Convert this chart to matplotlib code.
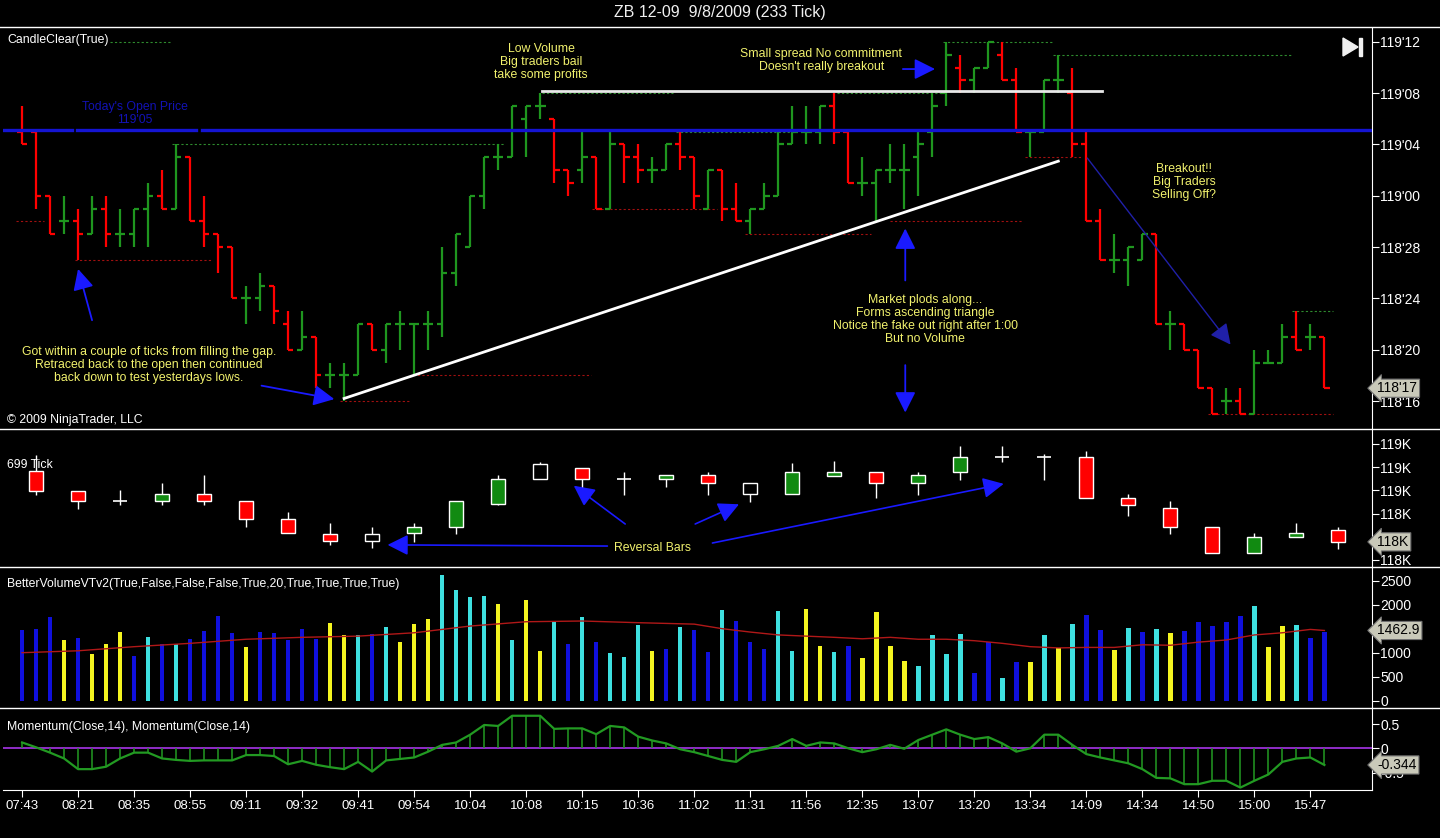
import numpy as np
import matplotlib.pyplot as plt
from matplotlib.patches import Rectangle, Polygon
from matplotlib.lines import Line2D
from matplotlib.transforms import blended_transform_factory

plt.rcParams['font.family'] = ['Liberation Sans', 'DejaVu Sans']

# 233 tick bars, prices in 32nds above 118'00
opens = [37, 37, 32, 30, 30, 29, 31, 29, 29, 31, 32, 31, 35, 30, 29, 28, 24, 24, 25, 22,
         20, 21, 18, 18, 18, 22, 20, 22, 22, 22, 22, 26, 28, 32, 35, 35, 38, 39, 38, 34,
         34, 35, 31, 36, 35, 34, 34, 36, 35, 31, 34, 31, 30, 31, 32, 36, 37, 37, 39, 37,
         33, 33, 34, 34, 35, 37, 40, 42, 41, 42, 43, 41, 37, 37, 41, 40, 36, 30, 27, 27,
         27, 29, 22, 22, 20, 17, 16, 16, 15, 19, 19, 21, 21, 21]
highs = [39, 37, 32, 32, 31, 32, 32, 31, 31, 33, 34, 36, 35, 32, 29, 28, 25, 26, 25, 23,
         23, 21, 19, 19, 22, 22, 22, 23, 22, 23, 28, 29, 32, 35, 36, 39, 39, 40, 38, 34,
         37, 35, 37, 36, 36, 35, 36, 37, 35, 34, 34, 33, 31, 33, 37, 39, 39, 39, 40, 37,
         35, 34, 36, 36, 37, 40, 44, 43, 42, 44, 44, 42, 37, 41, 43, 42, 37, 31, 29, 28,
         29, 29, 23, 22, 20, 17, 17, 17, 20, 20, 22, 23, 22, 21]
lows = [36, 31, 29, 29, 27, 29, 28, 28, 28, 28, 31, 31, 30, 28, 26, 24, 22, 23, 22, 20,
        20, 17, 17, 16, 18, 20, 19, 20, 18, 20, 21, 25, 28, 31, 34, 35, 35, 38, 33, 32,
        33, 31, 31, 33, 33, 33, 34, 34, 31, 31, 30, 30, 29, 31, 32, 36, 36, 36, 36, 33,
        32, 30, 33, 31, 32, 35, 39, 40, 40, 42, 41, 37, 35, 37, 40, 35, 30, 27, 26, 25,
        27, 22, 20, 20, 17, 15, 15, 15, 15, 19, 19, 20, 20, 17]
closes = [36, 32, 29, 30, 29, 31, 29, 29, 31, 32, 31, 35, 30, 29, 28, 24, 24, 25, 23, 20,
          21, 18, 18, 18, 22, 20, 22, 22, 22, 22, 26, 29, 32, 35, 35, 39, 39, 39, 34, 33,
          35, 31, 36, 35, 34, 34, 36, 35, 32, 34, 31, 30, 31, 32, 36, 37, 37, 39, 37, 33,
          33, 34, 34, 34, 36, 39, 43, 41, 42, 44, 41, 37, 37, 41, 41, 36, 30, 27, 27, 28,
          29, 22, 22, 20, 17, 15, 16, 15, 19, 19, 21, 20, 21, 17]
open_price = 37  # 119'05

price_ticks = [44, 40, 36, 32, 28, 24, 20, 16]
price_labels = ["119'12", "119'08", "119'04", "119'00", "118'28", "118'24", "118'20", "118'16"]

# swing high / low dotted lines: (start bar, end bar, level, kind)
levels = [(6.3, 10.6, 44, 'g'), (-0.4, 1.6, 30, 'r'), (3.8, 13.6, 27, 'r'),
          (10.7, 34.5, 36, 'g'), (22.7, 27.6, 16, 'r'), (27.9, 40.6, 18, 'r'),
          (37.1, 46.5, 40, 'g'), (46.7, 55.1, 37, 'g'), (40.7, 49.6, 31, 'r'),
          (51.6, 60.6, 29, 'r'), (58.2, 65.8, 40, 'g'), (62.0, 71.5, 30, 'r'),
          (65.8, 73.6, 44, 'g'), (73.6, 90.6, 43, 'g'), (71.6, 75.6, 35, 'r'),
          (90.7, 93.6, 23, 'g'), (84.7, 93.6, 15, 'r')]

# hand drawn trend lines (bar, price)
resist_line = [(37.1, 40.2), (77.1, 40.2)]
support_line = [(23.0, 16.2), (74.0, 34.7)]

# 699 tick candles, one per three 233 tick bars
c_open = [119.084, 118.997, 118.954, 118.954, 118.984, 118.954, 118.877, 118.812,
          118.782, 118.816, 118.842, 118.941, 119.049, 119.097, 119.049, 119.049,
          119.066, 118.984, 118.984, 119.062, 119.079, 119.032, 119.079, 119.144,
          119.144, 119.144, 118.967, 118.924, 118.842, 118.730, 118.799, 118.829]
c_high = [119.153, 118.997, 119.002, 119.032, 119.066, 118.954, 118.907, 118.859,
          118.842, 118.859, 118.954, 119.066, 119.122, 119.097, 119.079, 119.066,
          119.079, 119.032, 119.118, 119.127, 119.079, 119.079, 119.191, 119.191,
          119.157, 119.170, 118.984, 118.954, 118.842, 118.816, 118.859, 118.842]
c_low = [118.980, 118.920, 118.937, 118.937, 118.937, 118.842, 118.816, 118.765,
         118.752, 118.778, 118.812, 118.937, 119.049, 119.010, 118.980, 119.015,
         118.980, 118.950, 118.984, 119.062, 118.967, 118.980, 119.045, 119.122,
         119.045, 118.967, 118.890, 118.812, 118.730, 118.730, 118.799, 118.747]
c_close = [118.997, 118.954, 118.954, 118.984, 118.954, 118.877, 118.816, 118.782,
           118.812, 118.842, 118.954, 119.049, 119.114, 119.049, 119.049, 119.066,
           119.032, 119.032, 119.079, 119.079, 119.032, 119.066, 119.144, 119.144,
           119.144, 118.967, 118.937, 118.842, 118.730, 118.799, 118.816, 118.778]
c_kind = ['r', 'r', 'w', 'g', 'r', 'r', 'r', 'r', 'w', 'g', 'g', 'g', 'w', 'r', 'w', 'g',
          'r', 'w', 'g', 'g', 'r', 'g', 'g', 'w', 'w', 'r', 'r', 'r', 'r', 'g', 'g', 'r']
c_ticks = [119.2, 119.1, 119.0, 118.9, 118.8, 118.7]
c_labels = ['119K', '119K', '119K', '118K', '', '118K']  # 5th sits under the price marker

# volume per bar and its colour class
volume = [1470, 1490, 1750, 1260, 1300, 970, 1180, 1430, 930, 1330, 1190, 1180, 1280, 1450,
          1760, 1420, 1120, 1430, 1410, 1260, 1490, 1290, 1620, 1370, 1370, 1390, 1540, 1220,
          1600, 1700, 2620, 2300, 2160, 2180, 2010, 1260, 2100, 1040, 1660, 1180, 1740, 1220,
          990, 910, 1580, 1040, 1080, 1540, 1470, 1010, 1890, 1670, 1220, 1080, 1870, 1040,
          1920, 1140, 1010, 1140, 890, 1850, 1140, 830, 720, 1370, 970, 1390, 580, 1220, 470,
          800, 800, 1370, 1100, 1600, 1790, 1470, 1060, 1510, 1430, 1490, 1410, 1450, 1640,
          1560, 1640, 1760, 1970, 1120, 1560, 1580, 1310, 1430]
vol_kind = list('bbbybyyybcbcbbbbybbbbbyycbcyyyccccycyycbcbcccybcbb'
                'cbbbccyycbyyyyccccbbcbycycbbycbcybbbbbcyycbb')
vol_ma_bar = [0, 4, 8, 12, 16, 20, 24, 28, 32, 36, 40, 44, 48, 50, 52, 54, 56, 58, 60, 62,
              64, 66, 68, 70, 72, 74, 76, 78, 80, 82, 84, 86, 88, 90, 92, 93]
vol_ma = [1000, 1040, 1125, 1195, 1280, 1320, 1345, 1415, 1555, 1645, 1660, 1625, 1595, 1500,
          1430, 1370, 1345, 1320, 1290, 1320, 1280, 1280, 1250, 1195, 1125, 1100, 1110, 1110,
          1165, 1155, 1220, 1265, 1370, 1415, 1485, 1463]
vol_ticks = [0, 500, 1000, 1500, 2000, 2500]
vol_labels = ['0', '500', '1000', '', '2000', '2500']  # 1500 sits under the MA marker

momentum = [0.12, 0.02, -0.09, -0.21, -0.43, -0.43, -0.38, -0.21, -0.09, -0.09, -0.21, -0.24,
            -0.26, -0.25, -0.25, -0.25, -0.14, -0.14, -0.16, -0.33, -0.26, -0.34, -0.39, -0.43,
            -0.28, -0.48, -0.25, -0.22, -0.19, -0.07, 0.07, 0.12, 0.28, 0.48, 0.46, 0.67, 0.67,
            0.67, 0.40, 0.41, 0.41, 0.29, 0.46, 0.43, 0.24, 0.16, 0.10, -0.02, -0.08, -0.16,
            -0.24, -0.28, -0.08, -0.02, 0.05, 0.19, 0.05, 0.12, 0.10, 0.0, -0.08, -0.02, 0.07,
            -0.01, 0.17, 0.28, 0.39, 0.28, 0.19, 0.23, 0.10, -0.07, 0.0, 0.28, 0.28, 0.07,
            -0.12, -0.19, -0.25, -0.31, -0.43, -0.61, -0.62, -0.74, -0.74, -0.67, -0.67, -0.81,
            -0.67, -0.54, -0.28, -0.21, -0.19, -0.344]

times = ['07:43', '08:21', '08:35', '08:55', '09:11', '09:32', '09:41', '09:54', '10:04',
         '10:08', '10:15', '10:36', '11:02', '11:31', '11:56', '12:35', '13:07', '13:20',
         '13:34', '14:09', '14:34', '14:50', '15:00', '15:47']

W, H = 1440, 838
RED, GREEN = '#ff0000', '#1f961f'
BLUE = '#1a1aff'
YEL = '#f2f26e'
FS = 8.8
TFS = 10


def rect(top, bot):
    return [3 / W, 1 - bot / H, 1369 / W, (bot - top) / H]


def style(ax, ylim):
    ax.set_facecolor('black')
    ax.set_xlim(-1.36, 96.4)
    ax.set_ylim(*ylim)
    for s in ['top', 'left', 'bottom']:
        ax.spines[s].set_visible(False)
    ax.spines['right'].set_color('white')
    ax.yaxis.tick_right()
    ax.tick_params(axis='y', colors='white', labelsize=TFS, length=5, pad=1)
    ax.set_xticks([])


fig = plt.figure(figsize=(W / 100, H / 100), dpi=100, facecolor='black')
fig.text(0.5, 1 - 13 / H, 'ZB 12-09  9/8/2009 (233 Tick)', color='#f0f0f0',
         ha='center', va='center', fontsize=11.5)

ax_p = fig.add_axes(rect(28, 429))
ax_c = fig.add_axes(rect(430, 566))
ax_v = fig.add_axes(rect(567, 707))
ax_m = fig.add_axes(rect(708, 790))

x = np.arange(len(opens))

# ---- price panel
style(ax_p, (13.82, 45.08))
ax_p.set_yticks(price_ticks)
ax_p.set_yticklabels(price_labels)
cols = [GREEN if c >= o else RED for o, c in zip(opens, closes)]
for s, e, lv, k in levels:
    ax_p.hlines(lv, s, e, colors='#2e8b2e' if k == 'g' else '#a01010',
                linestyles=(0, (2, 2)), lw=0.8)
ax_p.vlines(x, lows, highs, colors=cols, lw=1.6)
ax_p.hlines(opens, x - 0.38, x, colors=cols, lw=1.6)
ax_p.hlines(closes, x, x + 0.38, colors=cols, lw=1.6)

for s, e in [(-1.36, 3.55), (3.95, 12.4), (12.85, 96.4)]:
    ax_p.plot([s, e], [open_price + 0.15] * 2, color='#1414d2', lw=2.4, zorder=3)
ax_p.text(8.07, 38.4, "Today's Open Price\n119'05", color='#1212b4', ha='center',
          va='center', fontsize=FS, linespacing=1.15)

ax_p.plot(*zip(*resist_line), color='#e8e8e8', lw=2, zorder=4)
ax_p.plot(*zip(*support_line), color='white', lw=2, zorder=4)

notes = [(9.07, 18.84, 'Got within a couple of ticks from filling the gap.\n'
          'Retraced back to the open then continued\nback down to test yesterdays lows.'),
         (37.07, 42.42, 'Low Volume\nBig traders bail\ntake some profits'),
         (57.07, 42.54, "Small spread No commitment\nDoesn't really breakout"),
         (83.0, 33.1, 'Breakout!!\nBig Traders\nSelling Off?'),
         (64.5, 22.35, 'Market plods along...\nForms ascending triangle\n'
          'Notice the fake out right after 1:00\nBut no Volume')]
for nx, ny, t in notes:
    ax_p.text(nx, ny, t, color=YEL, ha='center', va='center', fontsize=FS, linespacing=1.12)

arrows = [((5.0, 22.3), (4.0, 26.3), 1.3), ((17.1, 17.2), (22.3, 16.15), 1.3),
          ((62.9, 41.88), (65.2, 41.88), 1.3), ((63.07, 25.4), (63.07, 29.45), 1.3),
          ((63.07, 18.8), (63.07, 15.1), 1.3), ((76.07, 34.94), (86.3, 20.4), 1.0)]
for tail, tip, lw in arrows:
    ax_p.annotate('', xy=tip, xytext=tail,
                  arrowprops=dict(arrowstyle='-|>,head_length=0.9,head_width=0.45',
                                  color=BLUE if lw > 1 else '#2020a8', lw=lw,
                                  mutation_scale=14, shrinkA=0, shrinkB=0))

ax_p.text(0.003, 0.97, 'CandleClear(True)', transform=ax_p.transAxes, color='white',
          fontsize=FS, va='center')
ax_p.text(0.003, 0.023, '\u00a9 2009 NinjaTrader, LLC', transform=ax_p.transAxes,
          color='white', fontsize=FS, va='center')


def marker(ax, val, txt):
    tr = blended_transform_factory(ax.transAxes, ax.transData)
    ax.text(1.004, val, txt, transform=tr, color='black', fontsize=TFS, va='center',
            ha='left', clip_on=False, zorder=10,
            bbox=dict(boxstyle='larrow,pad=0.15', fc='#c9c9b9', ec='#707070', lw=0.8))


marker(ax_p, closes[-1], "118'17")

# ---- 699 tick candle panel
style(ax_c, (118.674, 119.26))
ax_c.set_yticks(c_ticks)
ax_c.set_yticklabels(c_labels)
xc = 1 + 3 * np.arange(len(c_open))
fills = {'r': RED, 'g': '#118a11', 'w': 'black'}
for xi, o, h, l, c, k in zip(xc, c_open, c_high, c_low, c_close, c_kind):
    ax_c.vlines(xi, l, h, colors='white', lw=1)
    lo, hi = min(o, c), max(o, c)
    if hi - lo < 0.004:
        ax_c.hlines(o, xi - 0.5, xi + 0.5, colors='white', lw=1.2)
    else:
        ax_c.add_patch(Rectangle((xi - 0.5, lo), 1.0, hi - lo, fc=fills[k], ec='white',
                                 lw=1, zorder=3))
ax_c.text(0.003, 0.743, '699 Tick', transform=ax_c.transAxes, color='white', fontsize=FS,
          va='center')
ax_c.text(45.0, 118.752, 'Reversal Bars', color=YEL, ha='center', va='center', fontsize=FS)
c_arrows = [((41.8, 118.760), (26.1, 118.765)), ((43.07, 118.855), (39.4, 119.02)),
            ((48.07, 118.855), (51.2, 118.94)), ((49.3, 118.773), (70.1, 119.028))]
for tail, tip in c_arrows:
    ax_c.annotate('', xy=tip, xytext=tail,
                  arrowprops=dict(arrowstyle='-|>,head_length=0.9,head_width=0.45',
                                  color=BLUE, lw=1.2, mutation_scale=14,
                                  shrinkA=0, shrinkB=0))
marker(ax_c, c_close[-1], '118K')

# ---- volume panel
style(ax_v, (-131, 2785))
ax_v.set_yticks(vol_ticks)
ax_v.set_yticklabels(vol_labels)
vcol = {'b': '#1010dc', 'y': '#f5f520', 'c': '#3ee0e0'}
ax_v.bar(x, volume, width=0.32, color=[vcol[k] for k in vol_kind])
ax_v.plot(vol_ma_bar, vol_ma, color='#b01818', lw=1)
ax_v.text(0.003, 0.879, 'BetterVolumeVTv2(True,False,False,False,True,20,True,True,True,True)',
          transform=ax_v.transAxes, color='white', fontsize=FS, va='center')
marker(ax_v, vol_ma[-1], '1462.9')

# ---- momentum panel
style(ax_m, (-0.86, 0.83))
ax_m.set_yticks([0.5, 0, -0.5])
ax_m.set_yticklabels(['0.5', '0', '-0.5'])
ax_m.axhline(0, color='#9a30d8', lw=1.3)
ax_m.vlines(x, 0, momentum, colors='#229a22', lw=1.1)
ax_m.plot(x, momentum, color='#229a22', lw=1.6)
ax_m.text(0.003, 0.768, 'Momentum(Close,14), Momentum(Close,14)', transform=ax_m.transAxes,
          color='white', fontsize=FS, va='center')
marker(ax_m, momentum[-1], '-0.344')
ax_m.spines['bottom'].set_visible(True)
ax_m.spines['bottom'].set_color('white')
ax_m.set_xticks(np.arange(0, len(opens), 4))
ax_m.set_xticklabels(times)
ax_m.tick_params(axis='x', colors='white', labelsize=9.5, length=5, pad=2)

# panel separators and play icon
for py in [27.5, 429.5, 566.5, 707.5]:
    fig.add_artist(Line2D([0, 1], [1 - py / H] * 2, transform=fig.transFigure,
                          color='white', lw=1))
fig.add_artist(Polygon([[1343 / W, 1 - 38 / H], [1343 / W, 1 - 56 / H],
                        [1358 / W, 1 - 47 / H]], transform=fig.transFigure,
                       color='#f0f0f0'))
fig.add_artist(Rectangle((1359 / W, 1 - 56 / H), 3 / W, 18 / H, transform=fig.transFigure,
                         color='#f0f0f0'))

fig.savefig('out.png', dpi=100, facecolor='black')
